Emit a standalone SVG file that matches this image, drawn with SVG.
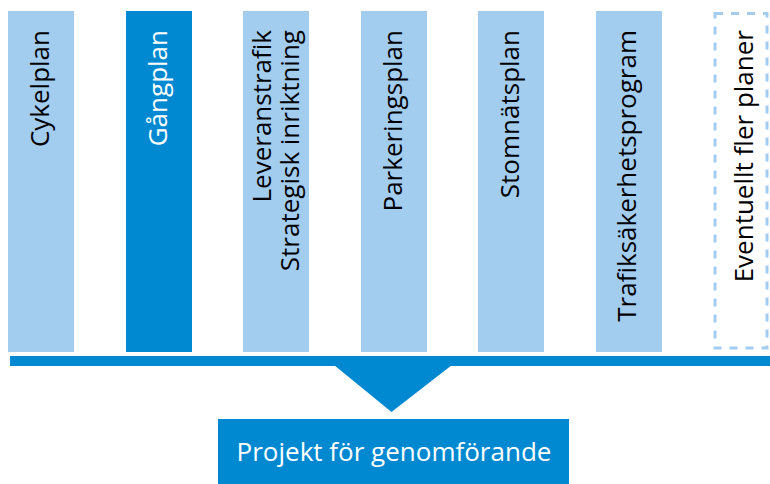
<svg xmlns="http://www.w3.org/2000/svg" width="770" height="484" viewBox="0 0 770 484">
<style>
.plan{fill:#A3CDEF}
.main{fill:#0089D1}
.lbl{font-family:"Open Sans","Liberation Sans",sans-serif;font-size:26px;fill:#000000;text-anchor:end}
.wlbl{fill:#FFFFFF}
.dash{fill:#FFFFFF;stroke:#A3CDEF;stroke-width:3;stroke-dasharray:8 8}
.proj{font-family:"Open Sans","Liberation Sans",sans-serif;font-size:26px;fill:#FFFFFF;text-anchor:middle}
</style>
<rect width="770" height="484" fill="#FFFFFF"/>
<g id="cykelplan">
<rect class="plan" x="8" y="11" width="66" height="341"/>
<text class="lbl" transform="translate(49,30) rotate(-90)">Cykelplan</text>
</g>
<g id="gangplan">
<rect class="main" x="126" y="11" width="66" height="341"/>
<text class="lbl wlbl" transform="translate(166.5,30) rotate(-90)">Gångplan</text>
</g>
<g id="leveranstrafik">
<rect class="plan" x="243" y="11" width="66" height="341"/>
<text class="lbl" transform="translate(270.5,30) rotate(-90)"><tspan x="0" y="0">Leveranstrafik</tspan><tspan x="0" y="28">Strategisk inriktning</tspan></text>
</g>
<g id="parkeringsplan">
<rect class="plan" x="361" y="11" width="66" height="341"/>
<text class="lbl" transform="translate(401.5,30) rotate(-90)">Parkeringsplan</text>
</g>
<g id="stomnatsplan">
<rect class="plan" x="478" y="11" width="66" height="341"/>
<text class="lbl" transform="translate(518.5,30) rotate(-90)">Stomnätsplan</text>
</g>
<g id="trafiksakerhetsprogram">
<rect class="plan" x="596" y="11" width="66" height="341"/>
<text class="lbl" transform="translate(636,30) rotate(-90)">Trafiksäkerhetsprogram</text>
</g>
<g id="eventuellt">
<rect class="dash" x="715" y="13.5" width="52" height="334.5"/>
<text class="lbl" transform="translate(752.5,30) rotate(-90)">Eventuellt fler planer</text>
</g>
<g id="connectors">
<rect class="main" x="10" y="356" width="760" height="10"/>
<polygon class="main" points="334,365 452,365 391.5,412"/>
</g>
<g id="projekt">
<rect class="main" x="218" y="419" width="351" height="65"/>
<text class="proj" x="394" y="460.5">Projekt för genomförande</text>
</g>
</svg>
